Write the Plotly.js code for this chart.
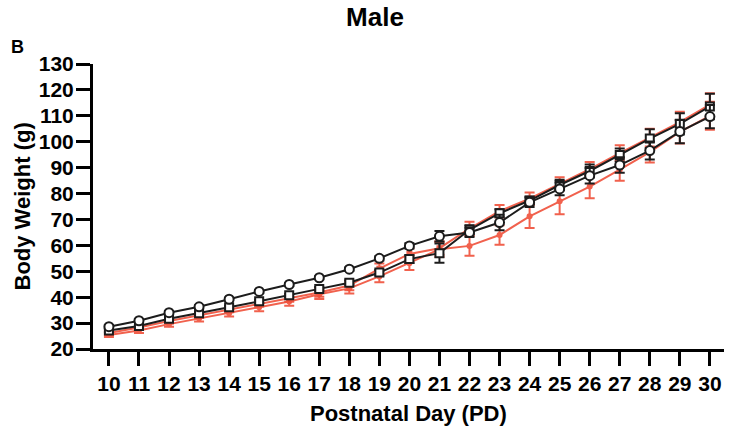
<!DOCTYPE html>
<html>
<head>
<meta charset="utf-8">
<script src="https://cdn.plot.ly/plotly-3.0.1.min.js"></script>
<style>html,body{margin:0;padding:0;background:#fff;}#chart{width:733px;height:431px;}</style>
</head>
<body>
<div id="chart"></div>
<script>
const days = [10,11,12,13,14,15,16,17,18,19,20,21,22,23,24,25,26,27,28,29,30];
const tickLabels = ['10','11','12','13','14','15','16','17','18','19','20','21','22','23','24','25','26','27','28','29','30'];

const circleMean = [28.6,30.9,34.0,36.3,39.2,42.2,44.9,47.5,50.8,55.0,59.8,63.5,65.0,68.8,76.6,81.8,86.9,91.0,96.6,103.9,109.7];
const circleErr  = [0.6,0.6,0.6,0.6,0.6,0.6,0.6,0.6,0.7,0.8,1.0,2.0,1.8,3.0,1.8,2.5,3.0,3.0,3.5,4.5,4.5];

const squareMean = [27.1,28.9,31.7,33.8,36.1,38.4,40.7,43.2,45.6,49.5,54.7,57.0,66.0,72.4,77.3,83.3,88.7,94.9,101.2,106.9,113.6];
const squareErr  = [0.6,0.6,0.6,0.6,0.6,0.6,0.6,0.7,0.8,1.0,1.5,3.7,1.8,1.5,1.5,2.0,2.5,2.5,3.6,4.1,4.9];

const redAMean = [26.2,28.3,30.8,33.0,35.2,37.6,39.6,41.8,44.5,51.0,56.7,58.9,66.5,73.2,78.0,83.8,89.4,95.6,101.6,107.6,114.3];
const redAErr  = [0.8,0.8,1.0,1.0,1.0,1.2,1.4,1.6,1.8,2.0,2.2,2.5,2.6,2.4,2.4,2.5,2.8,3.0,3.4,4.0,4.4];

const redBMean = [25.4,27.1,29.6,31.8,33.8,36.1,38.3,41.1,43.4,48.0,53.1,58.5,59.8,64.0,71.2,77.0,82.7,89.2,96.0,103.8,110.0];
const redBErr  = [0.8,0.9,1.0,1.2,1.3,1.5,1.6,1.8,2.0,2.2,2.6,3.0,3.8,3.8,4.5,5.0,4.5,4.3,4.0,4.5,5.4];

const RED = '#f0503a';
const BLK = '#1c1c1c';
const FONT = 'Liberation Sans, Arial, sans-serif';

function errY(arr, color) {
  return {type:'data', array:arr, visible:true, color:color, thickness:2, width:5};
}

const traces = [
  {x:days, y:redBMean, error_y:errY(redBErr, RED), mode:'lines+markers', type:'scatter',
   line:{color:RED, width:2}, marker:{symbol:'circle', size:6, color:RED}, opacity:0.9, name:'B'},
  {x:days, y:redAMean, error_y:errY(redAErr, RED), mode:'lines+markers', type:'scatter',
   line:{color:RED, width:2}, marker:{symbol:'square', size:6, color:RED}, opacity:0.9, name:'A'},
  {x:days, y:squareMean, error_y:errY(squareErr, BLK), mode:'lines+markers', type:'scatter',
   line:{color:BLK, width:2}, marker:{symbol:'square', size:8, color:'#ffffff', line:{color:BLK, width:2}}, name:'S'},
  {x:days, y:circleMean, error_y:errY(circleErr, BLK), mode:'lines+markers', type:'scatter',
   line:{color:BLK, width:2}, marker:{symbol:'circle', size:9, color:'#ffffff', line:{color:BLK, width:2}}, name:'C'}
];

const axisCommon = {
  showline:true, linewidth:3, linecolor:'#000', ticks:'outside', ticklen:14, tickwidth:3, tickcolor:'#000',
  showgrid:false, zeroline:false, fixedrange:true,
  tickfont:{family:FONT, size:21, color:'#000', weight:'bold'}
};

const layout = {
  width:733, height:431,
  margin:{l:93, r:9, t:64, b:82},
  paper_bgcolor:'#fff', plot_bgcolor:'#fff',
  showlegend:false,
  title:{text:'Male', x:375/733, xref:'container', xanchor:'center', y:1-17/431, yref:'container', yanchor:'middle',
         font:{family:FONT, size:26, color:'#000', weight:'bold'}},
  xaxis:Object.assign({}, axisCommon, {range:[9.47,30.47], tickvals:days, ticktext:tickLabels}),
  yaxis:Object.assign({}, axisCommon, {range:[20,130], dtick:10, tick0:20, ticklabelstandoff:-2}),
  annotations:[
    {text:'Body Weight (g)', xref:'paper', yref:'paper', x:0, y:0.5, xshift:-71, textangle:-90, showarrow:false,
     xanchor:'center', yanchor:'middle', font:{family:FONT, size:22, color:'#000', weight:'bold'}},
    {text:'Postnatal Day (PD)', xref:'paper', yref:'paper', x:0.5, y:0, yshift:-64, showarrow:false,
     xanchor:'center', yanchor:'middle', font:{family:FONT, size:22, color:'#000', weight:'bold'}},
    {text:'B', xref:'paper', yref:'paper', x:0, y:1, xshift:-76, yshift:17, showarrow:false,
     xanchor:'center', yanchor:'middle', font:{family:FONT, size:18, color:'#000', weight:'bold'}}
  ]
};

Plotly.newPlot('chart', traces, layout, {displayModeBar:false, staticPlot:true});
</script>
</body>
</html>
